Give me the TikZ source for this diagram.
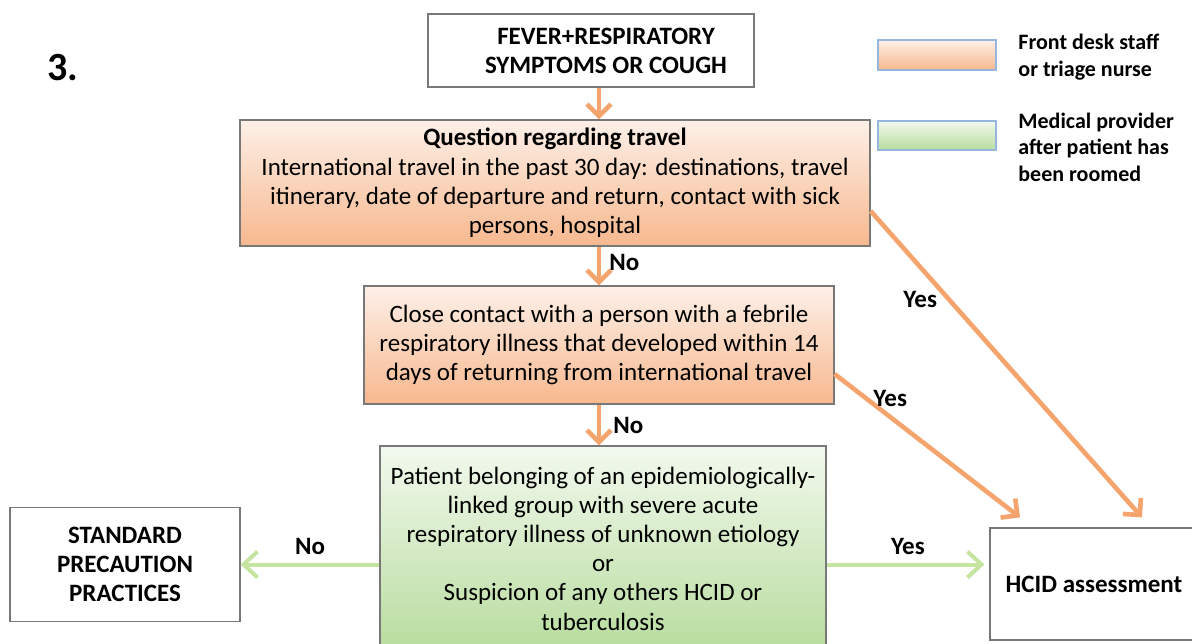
\documentclass[tikz,border=0pt]{standalone}
\usepackage{fontspec}
\setmainfont{Carlito}
\usetikzlibrary{arrows.meta}
\definecolor{arrorange}{RGB}{244,164,108}
\definecolor{arrgreen}{RGB}{196,228,160}
\definecolor{boxgray}{RGB}{120,120,120}
\definecolor{legblue}{RGB}{150,182,222}
\definecolor{orangetop}{RGB}{253,240,232}
\definecolor{orangebot}{RGB}{247,184,142}
\definecolor{greentop}{RGB}{242,249,238}
\definecolor{greenbot}{RGB}{184,220,158}
\begin{document}
\begin{tikzpicture}[x=0.5pt,y=-0.5pt,
    every node/.style={font=\fontsize{12.5}{14.6}\selectfont},
    plainbox/.style={draw=boxgray,line width=0.6pt,fill=white,align=center,inner sep=0pt},
    orangebox/.style={plainbox,top color=orangetop,bottom color=orangebot},
    greenbox/.style={plainbox,top color=greentop,bottom color=greenbot},
    orangearr/.style={draw=arrorange,line width=2.3pt,-{Straight Barb[length=6pt,width=12pt]}},
    greenarr/.style={draw=arrgreen,line width=2pt,-{Straight Barb[length=7pt,width=13pt]}},
    lbl/.style={font=\fontsize{12.5}{14}\selectfont\bfseries,inner sep=1pt},
    legtext/.style={font=\fontsize{11}{13.2}\selectfont\bfseries,align=left,anchor=west,inner sep=0pt}]
    \useasboundingbox (0,0) rectangle (1192,643);
    \clip (0,0) rectangle (1192,643);
    % number
    \node[font=\fontsize{20}{24}\selectfont\bfseries] (num) at (63,68) {3.};
    % legend
    \node[draw=legblue,line width=0.6pt,top color=orangetop,bottom color=orangebot,
        minimum width=59pt,minimum height=15pt] (legA) at (937,55) {};
    \node[draw=legblue,line width=0.6pt,top color=greentop,bottom color=greenbot,
        minimum width=59pt,minimum height=14.5pt] (legB) at (937,135.5) {};
    \node[legtext] (legAtext) at (1018,57) {Front desk staff\\or triage nurse};
    \node[legtext] (legBtext) at (1018,147) {Medical provider\\after patient has\\been roomed};
    % boxes
    \node[plainbox,font=\fontsize{12.5}{14.6}\selectfont\bfseries,
        minimum width=163pt,minimum height=36.5pt] (start) at (591,50.5)
        {\hspace*{15pt}FEVER+RESPIRATORY\\\hspace*{15pt}SYMPTOMS OR COUGH};
    \node[orangebox,minimum width=315pt,minimum height=63pt] (travel) at (555,183)
        {\textbf{Question regarding travel}\\
        International travel in the past 30 day: destinations, travel\\
        itinerary, date of departure and return, contact with sick\\
        persons, hospital};
    \node[orangebox,minimum width=235pt,minimum height=59pt] (contact) at (599,345)
        {Close contact with a person with a febrile\\
        respiratory illness that developed within 14\\
        days of returning from international travel};
    \node[greenbox,minimum width=223pt,minimum height=102.5pt] (group) at (603,548.5)
        {Patient belonging of an epidemiologically-\\
        linked group with severe acute\\
        respiratory illness of unknown etiology\\
        or\\
        Suspicion of any others HCID or\\
        tuberculosis};
    \node[plainbox,font=\fontsize{12.5}{14.6}\selectfont\bfseries,
        minimum width=115pt,minimum height=57pt] (standard) at (125,564.5)
        {STANDARD\\PRECAUTION\\PRACTICES};
    \node[plainbox,font=\fontsize{12.5}{14.6}\selectfont\bfseries,
        minimum width=105pt,minimum height=56pt] (hcid) at (1095,584)
        {\hspace*{-1pt}HCID assessment};
    % arrows
    \draw[orangearr] (contact.north |- start.south) -- (contact.north |- travel.north);
    \draw[orangearr] (contact.north |- travel.south) -- (contact.north)
        node[lbl,midway,right,xshift=3pt,yshift=2pt] {No};
    \draw[orangearr] (contact.south) -- (contact.south |- group.north)
        node[lbl,midway,right,xshift=5pt] {No};
    \draw[orangearr] ([yshift=-14pt]travel.east) -- ([xshift=23.5pt,yshift=5pt]hcid.north)
        node[lbl,pos=0.29,left,xshift=-4pt] {Yes};
    \draw[orangearr] ([yshift=-14.5pt]contact.east) -- ([xshift=-37.5pt,yshift=5pt]hcid.north)
        node[lbl,pos=0.3,above,yshift=3pt] {Yes};
    \draw[greenarr] (group.west |- standard.east) -- (standard.east)
        node[lbl,midway,above,yshift=3pt] {No};
    \draw[greenarr,shorten >=2.5pt] (group.east |- standard.east) -- (hcid.west |- standard.east)
        node[lbl,midway,above,yshift=3pt] {Yes};
\end{tikzpicture}
\end{document}
